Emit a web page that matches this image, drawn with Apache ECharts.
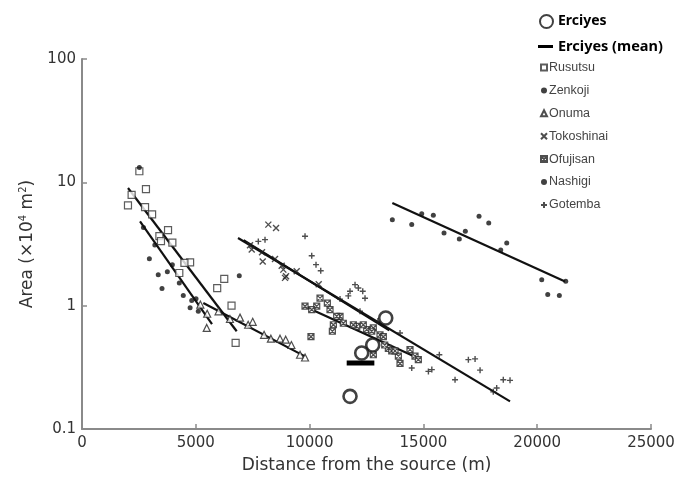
<!DOCTYPE html>
<html><head><meta charset="utf-8">
<script src="https://cdn.jsdelivr.net/npm/echarts@6/dist/echarts.min.js"></script>
<style>html,body{margin:0;padding:0;background:#fff}#c{width:680px;height:491px}</style>
</head><body><div id="c"></div>
<script>
// ---- data ----
const xTicks = [0, 5000, 10000, 15000, 20000, 25000];
const yTicks = [0.1, 1, 10, 100];

const erciyes = [[13345,0.795],[12773,0.48],[12290,0.413],[11776,0.184]];
const erciyesMean = [[11630,0.343],[12845,0.343]];

const rusutsu = [[2520,12.3],[2810,8.8],[2020,6.5],[2180,7.9],[2770,6.3],[3080,5.5],[3780,4.1],[3400,3.66],[3470,3.34],[3970,3.24],[4750,2.24],[4500,2.22],[4275,1.84],[6250,1.65],[5940,1.39],[6570,1.0],[6750,0.50]];
const zenkoji = [[2520,13.2],[2960,2.40],[3350,1.78],[3750,1.88],[3515,1.38],[4450,1.21],[6910,1.75],[3970,2.15],[4275,1.53],[4750,0.96],[5110,0.90],[4820,1.10],[5010,1.14],[2700,4.3],[3200,3.1]];
const onuma = [[5200,1.02],[5480,0.66],[5500,0.86],[6000,0.90],[6500,0.78],[6943,0.80],[7300,0.70],[7500,0.74],[8000,0.58],[8300,0.54],[8700,0.54],[8950,0.53],[9200,0.48],[9580,0.40],[9800,0.38]];
const tokoshinai = [[8187,4.54],[8525,4.26],[7940,2.28],[8920,1.68],[8964,1.73],[7457,2.85],[8846,1.96],[7382,3.09],[7909,2.71],[8480,2.39],[8774,2.11],[9433,1.90],[10400,1.49]];
const ofujisan = [[9799,0.99],[10458,1.15],[10313,0.99],[10780,1.05],[10897,0.93],[11337,0.82],[11044,0.70],[11483,0.72],[12071,0.68],[12509,0.64],[12800,0.66],[10093,0.93],[11190,0.82],[11923,0.70],[12360,0.70],[12729,0.62],[13094,0.58],[13240,0.56],[13460,0.45],[13608,0.43],[13900,0.39],[13973,0.34],[14412,0.44],[14632,0.39],[14777,0.365],[12800,0.40],[13753,0.43],[11000,0.62],[13300,0.48],[10060,0.56]];
const nashigi = [[13635,4.98],[14487,4.56],[14927,5.57],[15436,5.40],[15906,3.89],[16578,3.47],[16842,4.01],[17444,5.30],[17870,4.69],[18398,2.83],[18661,3.22],[20199,1.62],[21254,1.58],[20463,1.23],[20973,1.21]];
const gotemba = [[7747,3.32],[8041,3.43],[9799,3.65],[10093,2.54],[10282,2.15],[10489,1.92],[11776,1.31],[11996,1.48],[12141,1.39],[12335,1.31],[12435,1.15],[11700,1.2],[16976,0.365],[17270,0.37],[17490,0.30],[16390,0.251],[15370,0.303],[15220,0.293],[18510,0.251],[18806,0.248],[18070,0.20],[18220,0.215],[13973,0.60],[14488,0.312],[13000,0.75],[15700,0.40],[11337,1.13],[12215,0.90]];

// regression lines (endpoints)
const fitRusutsu = [[2021,9.0],[6797,0.62]];
const fitZenkoji = [[2549,4.83],[5712,0.71]];
const fitOnuma = [[5330,1.05],[9799,0.388]];
const fitTokoshinai = [[7100,3.4],[13500,0.63]];
const fitOfujisan = [[9724,1.0],[14850,0.37]];
const fitNashigi = [[13635,6.81],[21223,1.57]];
const fitGotemba = [[6855,3.54],[18806,0.1675]];

// ---- chart ----
const FONT = 'DejaVu Sans';
const chart = echarts.init(document.getElementById('c'), null, {renderer:'canvas'});
const stroke = (c) => ({color:'#fff', borderColor:c||'#222', borderWidth:1.2});
const fit = (name, d) => ({name, type:'line', data:d, symbol:'none', silent:true, z:3,
  lineStyle:{color:'#111', width:2.2}});
const sc = (name, d, symbol, size, itemStyle) => ({name, type:'scatter', data:d, symbol, symbolSize:size, itemStyle, z:4});

const legendItemsC = ['Rusutsu','Zenkoji','Onuma','Tokoshinai','Ofujisan','Nashigi','Gotemba'];

chart.setOption({
  animation:false,
  backgroundColor:'#fff',
  grid:{left:82, right:29, top:59, bottom:62},
  legend:[
    {data:['Erciyes'], left:534, top:9, itemWidth:13, itemHeight:13, itemGap:5,
     textStyle:{fontFamily:'Noto Sans', fontWeight:'bold', fontSize:14, color:'#000'}},
    {data:['Erciyes (mean)'], left:533, top:34, icon:'rect', itemWidth:15, itemHeight:3, itemGap:5,
     textStyle:{fontFamily:'Noto Sans', fontWeight:'bold', fontSize:14.5, color:'#000'}},
    {data:legendItemsC, orient:'vertical', left:535, top:56, itemWidth:6, itemHeight:6, itemGap:9.9,
     textStyle:{fontFamily:'Liberation Sans', fontSize:12.5, color:'#444', padding:[0,0,0,-3]}}
  ],
  xAxis:{type:'value', min:xTicks[0], max:xTicks[xTicks.length-1], interval:xTicks[1]-xTicks[0],
    name:'Distance from the source (m)', nameLocation:'middle', nameGap:28,
    nameTextStyle:{fontFamily:FONT, fontSize:17, color:'#333'},
    axisLine:{lineStyle:{color:'#8a8a8a', width:2}},
    axisTick:{inside:true, length:5, lineStyle:{color:'#8a8a8a', width:1.5}},
    axisLabel:{fontFamily:FONT, fontSize:15, color:'#333', margin:7, formatter:(v)=>String(v)},
    splitLine:{show:false}},
  yAxis:{type:'log', logBase:10, min:yTicks[0], max:yTicks[yTicks.length-1],
    name:'Area (×10{s|4} m{s|2})', nameLocation:'middle', nameGap:44,
    nameTextStyle:{fontFamily:FONT, fontSize:17, color:'#333',
      rich:{s:{fontFamily:FONT, fontSize:10, color:'#333', verticalAlign:'top', padding:[0,0,10,0]}}},
    axisLine:{show:true, lineStyle:{color:'#8a8a8a', width:2}},
    axisTick:{inside:true, length:5, lineStyle:{color:'#8a8a8a', width:1.5}},
    axisLabel:{fontFamily:FONT, fontSize:15, color:'#333', margin:6,
      formatter:(v)=> String(v)},
    minorTick:{show:false},
    splitLine:{show:false}},
  series:[
    fit('fitRusutsu', fitRusutsu), fit('fitZenkoji', fitZenkoji), fit('fitOnuma', fitOnuma),
    fit('fitTokoshinai', fitTokoshinai), fit('fitOfujisan', fitOfujisan),
    fit('fitNashigi', fitNashigi), fit('fitGotemba', fitGotemba),
    sc('Rusutsu', rusutsu, 'rect', 7, stroke('#333')),
    sc('Zenkoji', zenkoji, 'circle', 5, {color:'#111'}),
    sc('Onuma', onuma, 'triangle', 7, stroke('#222')),
    sc('Tokoshinai', tokoshinai, 'path://M0,0L10,10M10,0L0,10', 6, {color:'transparent', borderColor:'#222', borderWidth:1.4}),
    sc('Ofujisan', ofujisan, 'path://M0,0H10V10H0ZM0,0L10,10M10,0L0,10', 6, {color:'#fff', borderColor:'#222', borderWidth:1.2}),
    sc('Nashigi', nashigi, 'circle', 5, {color:'#111'}),
    sc('Gotemba', gotemba, 'path://M5,0V10M0,5H10', 6, {color:'transparent', borderColor:'#222', borderWidth:1.4}),
    {name:'Erciyes (mean)', type:'line', data:erciyesMean, symbol:'none', z:6,
      lineStyle:{color:'#000', width:5}, itemStyle:{color:'#000'}},
    sc('Erciyes', erciyes, 'circle', 13, {color:'#fff', borderColor:'#111', borderWidth:2.6})
  ]
});
</script>
</body></html>
